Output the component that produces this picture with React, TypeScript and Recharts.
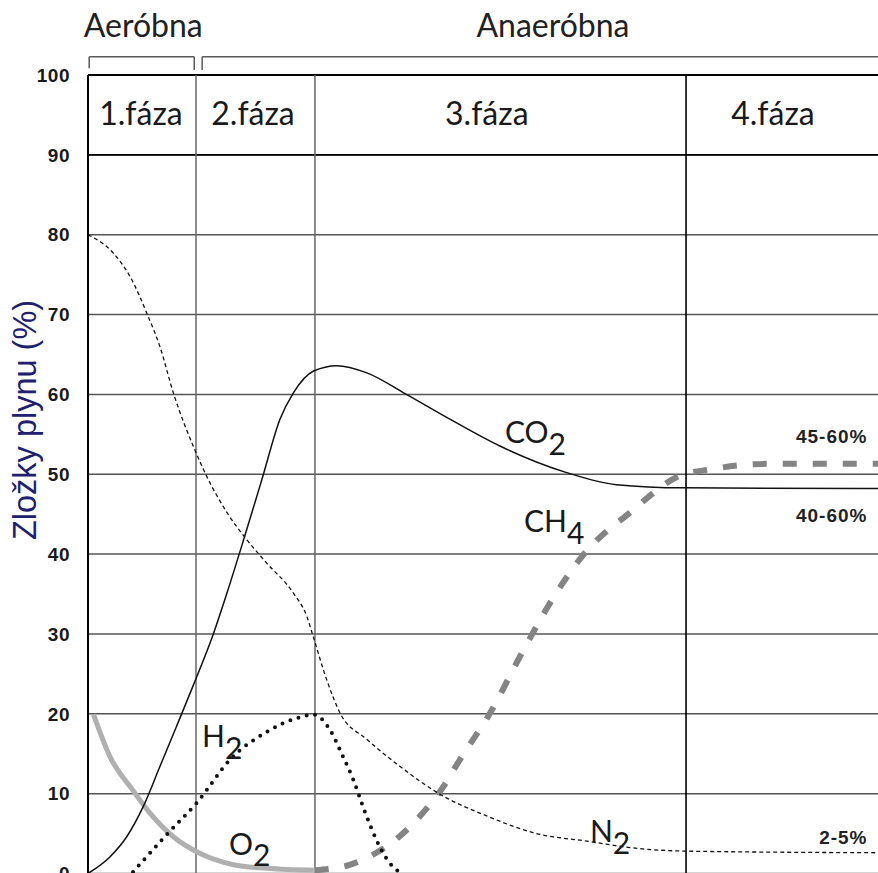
import React from 'react';
import { LineChart, Line, XAxis, YAxis, CartesianGrid, ReferenceLine, ReferenceDot } from 'recharts';

// time axis: 0..100 (arbitrary units across the four phases)
const phaseBounds = [13.67, 28.73, 75.7];
const yTicks = [0, 10, 20, 30, 40, 50, 60, 70, 80, 90, 100];

const n2Time = [0, 3.2, 5.3, 7.6, 9.1, 10.8, 13.5, 15.0, 17.6, 20.1, 22.6, 26.0, 27.7, 28.5, 30.2, 31.9, 35.3, 39.5, 44.6, 50.5, 56.4, 63.5, 69.0, 75.8, 100];
const n2Values = [80, 77.7, 74.8, 69.8, 66.0, 60.2, 53.1, 49.8, 45.2, 41.8, 38.9, 35.1, 32.2, 29.7, 24.3, 20.1, 16.8, 13.4, 9.9, 7.2, 5.1, 4.0, 3.2, 2.8, 2.6];

const co2Time = [0, 2.8, 4.9, 7.0, 9.1, 11.2, 13.3, 15.9, 17.55, 19.7, 22.0, 24.3, 26.0, 28.5, 31.5, 35.3, 40.3, 45.8, 52.2, 60.6, 66.9, 75.4, 100];
const co2Values = [0, 2.1, 4.6, 8.4, 13.4, 18.4, 23.5, 30.1, 35.0, 41.8, 49.3, 56.9, 60.2, 62.9, 63.6, 62.7, 60.0, 56.9, 53.5, 50.2, 48.7, 48.3, 48.2];

const ch4Time = [28.7, 33.2, 36.5, 39.5, 42.4, 45.0, 47.1, 50.9, 54.7, 58.5, 62.7, 68.6, 74.9, 78.7, 85.9, 100];
const ch4Values = [0.4, 1.1, 2.6, 4.7, 7.6, 10.9, 14.3, 20.1, 27.2, 33.9, 39.9, 45.2, 49.8, 50.6, 51.3, 51.3];

const o2Time = [0.7, 2.8, 5.7, 7.9, 10.8, 14.2, 18.4, 22.6, 28.9];
const o2Values = [19.9, 14.6, 10.4, 7.5, 4.6, 2.5, 1.1, 0.65, 0.4];

const h2Time = [5.7, 10.0, 13.8, 18.2, 22.4, 26.6, 28.6, 30.5, 32.3, 33.6, 34.8, 35.9, 37.0, 38.2, 39.4];
const h2Values = [0.2, 4.9, 8.9, 14.5, 17.6, 19.5, 19.9, 18.2, 14.6, 11.7, 8.4, 5.6, 3.2, 1.3, 0.2];

const phaseLabels = ['1.fáza', '2.fáza', '3.fáza', '4.fáza'];
const phaseLabelX = [6.71, 20.89, 50.48, 86.71];
const regimeLabels = ['Aeróbna', 'Anaeróbna'];
const regimeLabelX = [7.0, 58.86];
const rangeLabels = ['45-60%', '40-60%', '2-5%'];
const rangeLabelY = [53.88, 44.06, 3.69];

const gasLabels = [
  { name: 'CO', sub: '2', x: 52.78, y: 53.88, subDy: 12 },
  { name: 'CH', sub: '4', x: 55.19, y: 42.8, subDy: 12 },
  { name: 'H', sub: '2', x: 14.43, y: 15.88, subDy: 12 },
  { name: 'O', sub: '2', x: 17.85, y: 2.3, subDy: 11 },
  { name: 'N', sub: '2', x: 63.54, y: 3.98, subDy: 12 },
];

const toPoints = (t: number[], v: number[]) => t.map((x, i) => ({ t: x, v: v[i] }));

const FONT_CAL = "Lato, 'Open Sans', sans-serif";
const FONT_ARIAL = "'Liberation Sans', Arial, sans-serif";

const Txt = (props: any) => {
  const { viewBox, text, sub, size = 30, subDy = 12, family = FONT_CAL, weight = 400, anchor = 'start', fill = '#1a1a1a', ls } = props;
  if (!viewBox) return null;
  const { x, y } = viewBox;
  return (
    <text x={x} y={y} fontFamily={family} fontSize={size} fontWeight={weight} textAnchor={anchor} fill={fill} letterSpacing={ls}>
      {text}
      {sub ? <tspan dy={subDy}>{sub}</tspan> : null}
    </text>
  );
};

const YTitle = (props: any) => {
  const { viewBox } = props;
  if (!viewBox) return null;
  const cx = viewBox.x + 36;
  const cy = viewBox.y + viewBox.height * 0.432;
  return (
    <text x={cx} y={cy} transform={`rotate(-90, ${cx}, ${cy})`} textAnchor="middle" fontFamily={FONT_ARIAL} fontSize={32.5} fill="#20206e">
      Zložky plynu (%)
    </text>
  );
};

const BR = '#5a5a5a';
const brTop = 102.29;

export default function App() {
  return (
    <div style={{ position: 'absolute', left: 0, top: 0, width: 878, height: 873, overflow: 'hidden', background: '#fff' }}>
      <LineChart width={878} height={880} margin={{ top: 75, right: 0, bottom: 6.5, left: 0 }}>
        <XAxis type="number" dataKey="t" domain={[0, 100]} hide allowDataOverflow />
        <YAxis
          type="number"
          domain={[0, 100]}
          ticks={yTicks}
          interval={0}
          width={88}
          axisLine={{ stroke: '#000', strokeWidth: 2 }}
          tickLine={false}
          tickSize={0}
          tickMargin={18}
          tick={{ fontFamily: FONT_ARIAL, fontSize: 19, fontWeight: 700, fill: '#1a1a1a', letterSpacing: 0.5 }}
          label={<YTitle />}
        />
        <CartesianGrid vertical={false} stroke="#555" strokeWidth={1.5} />
        <ReferenceLine y={90} stroke="#000" strokeWidth={1.8} />
        <ReferenceLine y={100} stroke="#000" strokeWidth={1.8} />
        <ReferenceLine x={phaseBounds[0]} stroke="#666" strokeWidth={1.5} />
        <ReferenceLine x={phaseBounds[1]} stroke="#666" strokeWidth={1.5} />
        <ReferenceLine x={phaseBounds[2]} stroke="#000" strokeWidth={1.6} />

        {/* brackets */}
        <ReferenceLine ifOverflow="visible" stroke={BR} strokeWidth={1.5} segment={[{ x: 0.15, y: 100.84 }, { x: 0.15, y: brTop }]} />
        <ReferenceLine ifOverflow="visible" stroke={BR} strokeWidth={1.5} segment={[{ x: 0.15, y: brTop }, { x: 13.45, y: brTop }]} />
        <ReferenceLine ifOverflow="visible" stroke={BR} strokeWidth={1.5} segment={[{ x: 13.45, y: brTop }, { x: 13.45, y: 100.63 }]} />
        <ReferenceLine ifOverflow="visible" stroke={BR} strokeWidth={1.5} segment={[{ x: 14.45, y: 100.63 }, { x: 14.45, y: brTop }]} />
        <ReferenceLine ifOverflow="visible" stroke={BR} strokeWidth={1.5} segment={[{ x: 14.45, y: brTop }, { x: 100, y: brTop }]} />

        <Line data={toPoints(o2Time, o2Values)} dataKey="v" type="monotone" stroke="#b0b0b0" strokeWidth={5} dot={false} isAnimationActive={false} />
        <Line data={toPoints(ch4Time, ch4Values)} dataKey="v" type="monotone" stroke="#848484" strokeWidth={6} strokeDasharray="14 16" dot={false} isAnimationActive={false} />
        <Line data={toPoints(n2Time, n2Values)} dataKey="v" type="monotone" stroke="#111" strokeWidth={1.3} strokeDasharray="4 3" dot={false} isAnimationActive={false} />
        <Line data={toPoints(co2Time, co2Values)} dataKey="v" type="monotone" stroke="#111" strokeWidth={1.5} dot={false} isAnimationActive={false} />
        <Line data={toPoints(h2Time, h2Values)} dataKey="v" type="monotone" stroke="#111" strokeWidth={4} strokeDasharray="0 8.5" strokeLinecap="round" dot={false} isAnimationActive={false} />

        {phaseLabels.map((p, i) => (
          <ReferenceDot key={p} x={phaseLabelX[i]} y={93.74} r={0} fill="none" stroke="none" ifOverflow="visible"
            label={<Txt text={p} size={32} anchor="middle" />} />
        ))}
        {regimeLabels.map((p, i) => (
          <ReferenceDot key={p} x={regimeLabelX[i]} y={104.72} r={0} fill="none" stroke="none" ifOverflow="visible"
            label={<Txt text={p} size={32} anchor="middle" fill="#222" />} />
        ))}
        {rangeLabels.map((p, i) => (
          <ReferenceDot key={p} x={98.67} y={rangeLabelY[i]} r={0} fill="none" stroke="none" ifOverflow="visible"
            label={<Txt text={p} size={19} family={FONT_ARIAL} weight={700} anchor="end" fill="#222" ls={1} />} />
        ))}
        {gasLabels.map((g) => (
          <ReferenceDot key={g.name} x={g.x} y={g.y} r={0} fill="none" stroke="none" ifOverflow="visible"
            label={<Txt text={g.name} sub={g.sub} size={30} subDy={g.subDy} />} />
        ))}
      </LineChart>
    </div>
  );
}
